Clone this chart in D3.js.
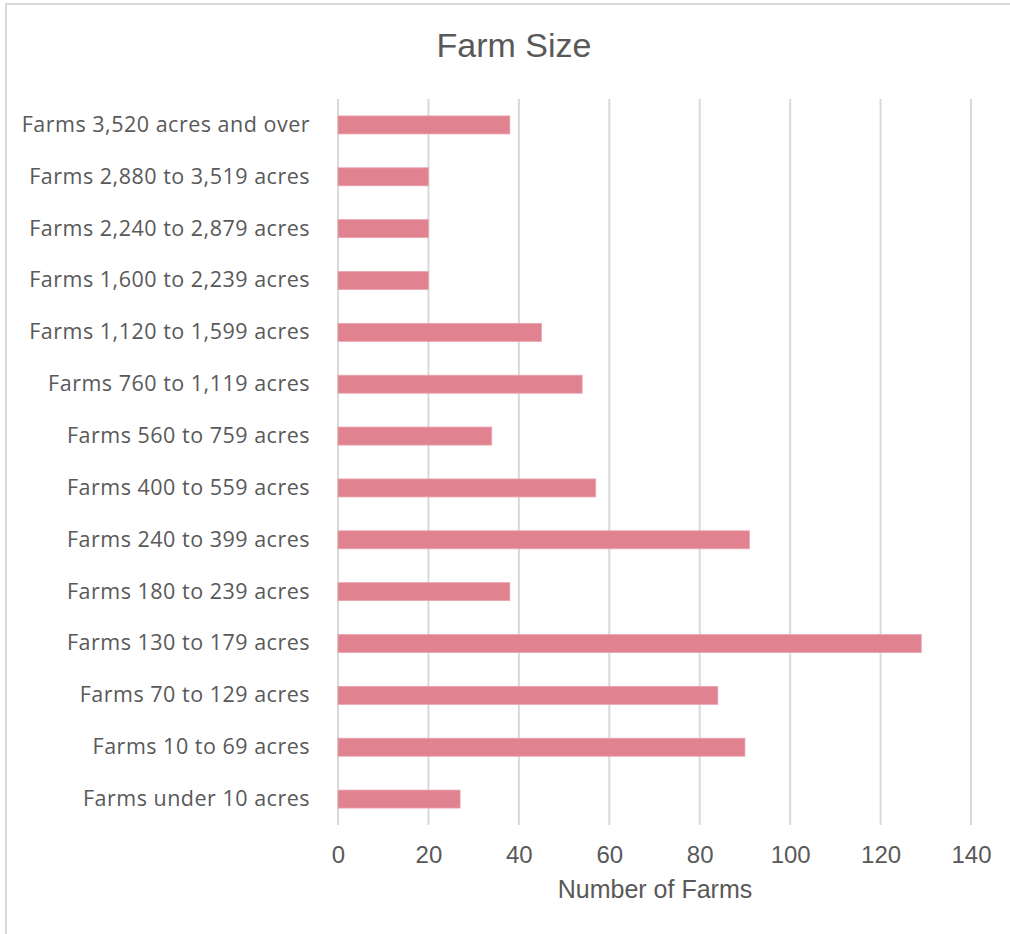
<!DOCTYPE html>
<html>
<head>
<meta charset="utf-8">
<script src="https://cdn.jsdelivr.net/npm/d3@7"></script>
<style>
  html, body { margin: 0; padding: 0; background: #fff; }
  svg { display: block; }
  text { font-family: "Liberation Sans", Arial, sans-serif; fill: #595959; }
</style>
</head>
<body>
<svg id="chart" width="1010" height="934"></svg>
<script>
const categories = [
  "Farms 3,520 acres and over",
  "Farms 2,880 to 3,519 acres",
  "Farms 2,240 to 2,879 acres",
  "Farms 1,600 to 2,239 acres",
  "Farms 1,120 to 1,599 acres",
  "Farms 760 to 1,119 acres",
  "Farms 560 to 759 acres",
  "Farms 400 to 559 acres",
  "Farms 240 to 399 acres",
  "Farms 180 to 239 acres",
  "Farms 130 to 179 acres",
  "Farms 70 to 129 acres",
  "Farms 10 to 69 acres",
  "Farms under 10 acres"
];
const values = [38, 20, 20, 20, 45, 54, 34, 57, 91, 38, 129, 84, 90, 27];
const xTicks = [0, 20, 40, 60, 80, 100, 120, 140];
const chartTitle = "Farm Size";
const xTitle = "Number of Farms";

const svg = d3.select("#chart");
const pLeft = 338, pRight = 971, pTop = 99, pBottom = 825;

// outer chart border (top and left visible)
svg.append("rect")
  .attr("x", 6).attr("y", 4)
  .attr("width", 1100).attr("height", 1000)
  .attr("fill", "none").attr("stroke", "#d9d9d9").attr("stroke-width", 2);

const x = d3.scaleLinear().domain([0, 140]).range([pLeft, pRight]);
const y = d3.scaleBand().domain(categories).range([pTop, pBottom])
  .paddingInner(0.653).paddingOuter(0.3265);

// gridlines
svg.append("g").selectAll("line").data(xTicks).join("line")
  .attr("x1", d => x(d)).attr("x2", d => x(d))
  .attr("y1", pTop).attr("y2", pBottom)
  .attr("stroke", "#d9d9d9").attr("stroke-width", 2);

// bars
svg.append("g").selectAll("rect").data(values).join("rect")
  .attr("x", x(0))
  .attr("y", (d, i) => y(categories[i]))
  .attr("width", d => x(d) - x(0))
  .attr("height", y.bandwidth())
  .attr("fill", "#e08290")
  .attr("stroke", "#eaa3ad").attr("stroke-width", 0.8);

// y axis labels
const yAxis = d3.axisLeft(y).tickSize(0).tickPadding(28);
const gy = svg.append("g").attr("transform", `translate(${pLeft},0)`).call(yAxis);
gy.select(".domain").remove();
gy.selectAll("text").attr("font-size", 21.5).style("letter-spacing", "0.5px")
  .style("font-family", '"Open Sans", "Liberation Sans", sans-serif').attr("fill", "#595959");

// x axis labels
const xAxis = d3.axisBottom(x).tickValues(xTicks).tickSize(0).tickPadding(21);
const gx = svg.append("g").attr("transform", `translate(0,${pBottom})`).call(xAxis);
gx.select(".domain").remove();
gx.selectAll("text").attr("font-size", 24)
  .style("font-family", '"Liberation Sans", Arial, sans-serif').attr("fill", "#595959");

// titles
svg.append("text").attr("x", 514).attr("y", 57)
  .attr("text-anchor", "middle").attr("font-size", 34).text(chartTitle);
svg.append("text").attr("x", 655).attr("y", 898)
  .attr("text-anchor", "middle").attr("font-size", 25).text(xTitle);
</script>
</body>
</html>
